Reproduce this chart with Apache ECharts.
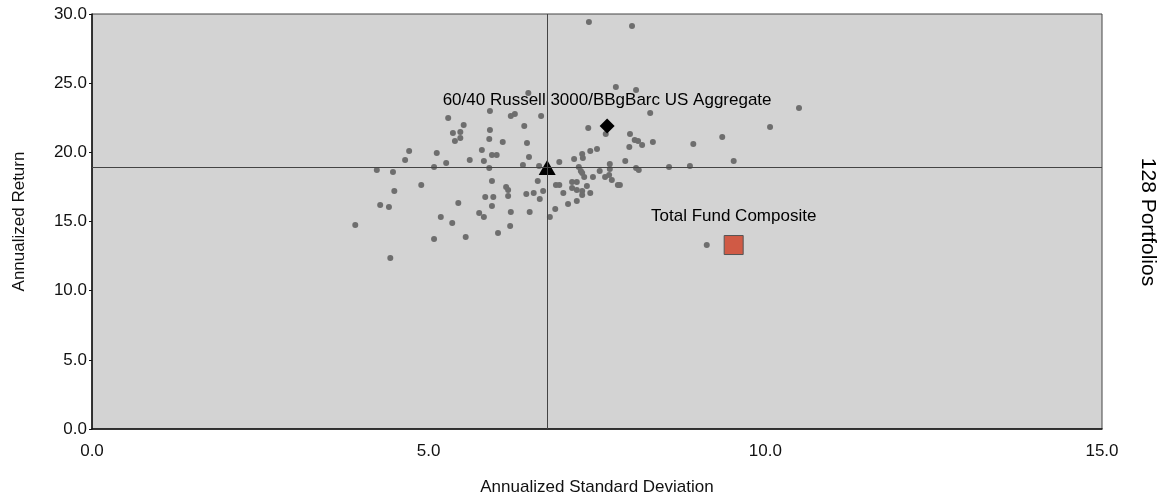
<!DOCTYPE html>
<html>
<head>
<meta charset="utf-8">
<script src="https://cdn.jsdelivr.net/npm/echarts@6/dist/echarts.min.js"></script>
<style>html,body{margin:0;padding:0;background:#fff;}#c{width:1170px;height:498px;}</style>
</head>
<body>
<div id="c"></div>
<script>
// Peer portfolios: [annualized std dev, annualized return]
const portfolioStdDev = [5.29,5.52,5.36,5.47,5.39,5.47,4.71,4.65,5.12,5.26,5.08,4.23,4.47,5.61,5.91,5.91,5.90,5.79,5.94,6.01,5.82,5.90,6.48,6.22,6.28,6.42,6.10,6.46,6.49,6.40,6.64,5.94,6.15,6.18,6.18,5.84,5.96,6.45,6.56,6.62,6.65,4.89,4.49,4.28,4.41,5.44,5.94,5.75,5.82,6.22,6.50,5.18,5.35,3.91,6.21,6.03,5.08,5.55,4.43,7.78,8.08,6.67,8.29,7.37,7.63,7.99,8.06,8.11,8.17,8.33,7.98,8.93,9.36,10.07,10.50,9.53,8.88,8.57,7.92,8.08,8.12,7.84,9.13,7.50,7.40,7.28,7.29,7.16,6.94,7.69,7.69,7.23,7.26,7.28,7.54,7.62,7.44,7.31,7.72,7.81,7.20,7.13,7.13,7.20,7.28,7.28,7.35,7.40,7.00,6.89,6.94,6.70,7.07,7.20,6.88,6.80,7.38,8.02,7.68];
const portfolioReturn = [22.48,21.98,21.40,21.47,20.82,21.04,20.10,19.45,19.95,19.23,18.94,18.72,18.58,19.45,22.99,21.61,20.96,20.17,19.81,19.81,19.37,18.87,24.29,22.63,22.77,21.90,20.75,20.67,19.66,19.08,19.01,17.93,17.49,17.28,16.84,16.77,16.77,16.99,17.06,17.93,16.63,17.64,17.21,16.19,16.05,16.34,16.12,15.61,15.33,15.69,15.69,15.33,14.89,14.75,14.68,14.17,13.74,13.88,12.36,24.72,24.51,22.63,22.84,21.76,21.33,21.33,20.89,20.82,20.53,20.75,20.39,20.60,21.11,21.83,23.21,19.37,19.01,18.94,19.37,18.87,18.72,17.64,13.30,20.24,20.10,19.88,19.59,19.52,19.30,19.16,18.80,18.94,18.65,18.51,18.65,18.22,18.22,18.22,18.00,17.64,17.86,17.86,17.42,17.28,17.21,16.92,17.57,17.06,17.06,17.64,17.64,17.21,16.27,16.48,15.90,15.33,29.42,29.13,18.36];

const medianPoint = [6.76, 18.9];
const benchmarkName = '60/40 Russell 3000/BBgBarc US Aggregate';
const benchmarkPoint = [7.65, 21.9];
const fundName = 'Total Fund Composite';
const fundPoint = [9.53, 13.3];

const xTicks = { min: 0, max: 15, interval: 5 };
const yTicks = { min: 0, max: 30, interval: 5 };
const xAxisTitle = 'Annualized Standard Deviation';
const yAxisTitle = 'Annualized Return';
const rightTitle = '128 Portfolios';

const FONT = '"Liberation Sans", Arial, sans-serif';
const chart = echarts.init(document.getElementById('c'), null, { renderer: 'canvas' });

const peerData = portfolioStdDev.map((x, i) => [x, portfolioReturn[i]]);

chart.setOption({
  animation: false,
  backgroundColor: '#ffffff',
  grid: { left: 92, right: 68, top: 14, bottom: 69, containLabel: false, outerBoundsMode: 'none', show: true, backgroundColor: '#d3d3d3', borderColor: '#444', borderWidth: 1 },
  xAxis: {
    type: 'value', min: xTicks.min, max: xTicks.max, interval: xTicks.interval,
    name: xAxisTitle, nameLocation: 'middle', nameGap: 50,
    nameTextStyle: { fontFamily: FONT, fontSize: 17, color: '#111' },
    axisLine: { show: true, onZero: false, lineStyle: { color: '#111', width: 1.5 } },
    axisTick: { show: false },
    splitLine: { show: false },
    axisLabel: { fontFamily: FONT, fontSize: 17, color: '#111', margin: 14, formatter: v => v.toFixed(1) }
  },
  yAxis: {
    type: 'value', min: yTicks.min, max: yTicks.max, interval: yTicks.interval,
    name: yAxisTitle, nameLocation: 'middle', nameGap: 64,
    nameTextStyle: { fontFamily: FONT, fontSize: 17, color: '#111' },
    axisLine: { show: true, onZero: false, lineStyle: { color: '#111', width: 1.5 } },
    axisTick: { show: true, length: 3, lineStyle: { color: '#111' } },
    splitLine: { show: false },
    axisLabel: { fontFamily: FONT, fontSize: 17, color: '#111', margin: 5, formatter: v => v.toFixed(1) }
  },
  graphic: [{
    type: 'text', x: 1148, y: 222,
    rotation: -Math.PI / 2,
    style: { text: rightTitle, font: '21px "Liberation Sans", Arial, sans-serif', fill: '#000', align: 'center', verticalAlign: 'middle' }
  }],
  series: [
    {
      type: 'scatter', data: peerData, symbol: 'circle', symbolSize: 6,
      itemStyle: { color: '#6e6e6e', opacity: 1 },
      silent: true,
      markLine: {
        silent: true, symbol: ['none', 'none'], label: { show: false },
        lineStyle: { color: '#444', width: 1, type: 'solid', opacity: 1 },
        data: [{ xAxis: medianPoint[0] }, { yAxis: medianPoint[1] }]
      }
    },
    {
      type: 'scatter', data: [medianPoint], symbol: 'triangle', symbolSize: [17, 15],
      itemStyle: { color: '#000', opacity: 1 }
    },
    {
      type: 'scatter', data: [benchmarkPoint], symbol: 'diamond', symbolSize: [15, 15],
      itemStyle: { color: '#000', opacity: 1 },
      label: { show: true, position: 'top', distance: 10, formatter: benchmarkName, fontFamily: FONT, fontSize: 17, color: '#000' }
    },
    {
      type: 'scatter', data: [fundPoint], symbol: 'rect', symbolSize: 19,
      itemStyle: { color: '#d05a45', borderColor: '#555', borderWidth: 1, opacity: 1 },
      label: { show: true, position: 'top', distance: 10, formatter: fundName, fontFamily: FONT, fontSize: 17, color: '#000' }
    }
  ]
});
</script>
</body>
</html>
